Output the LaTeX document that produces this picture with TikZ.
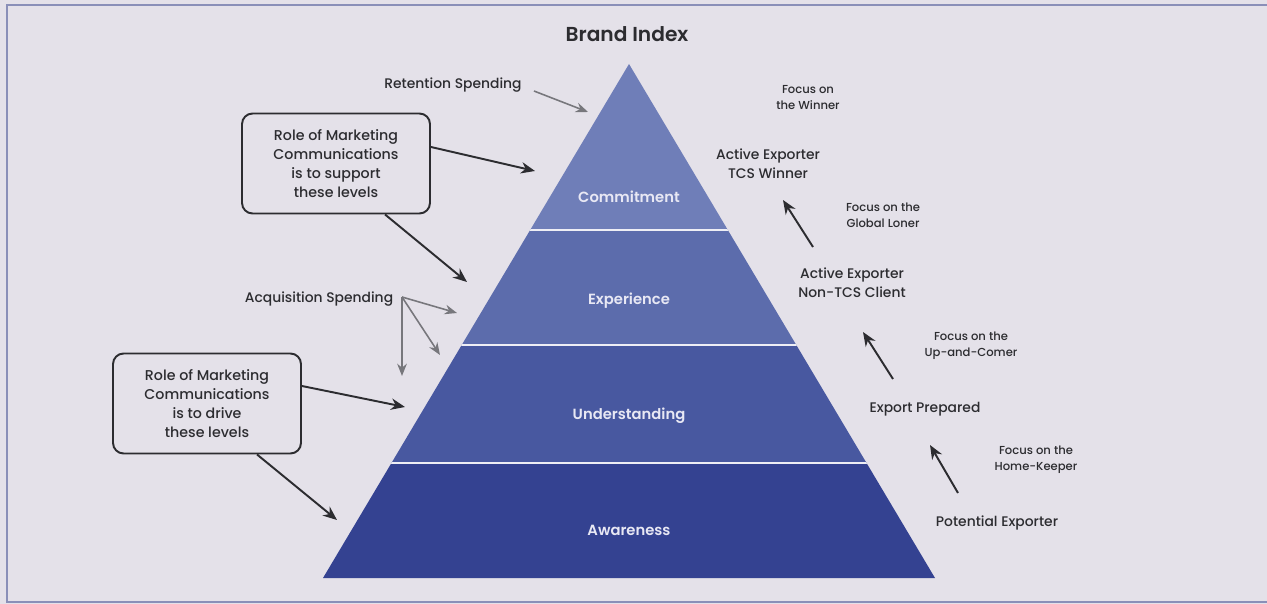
\documentclass[tikz,border=0pt]{standalone}
\usepackage{fontspec}
\setmainfont{Poppins}[UprightFont={* Medium},BoldFont={* SemiBold}]
\usetikzlibrary{arrows.meta}
\definecolor{pagebg}{HTML}{E4E1E9}
\definecolor{framecol}{HTML}{8A8FB8}
\definecolor{inkcol}{HTML}{2C2C30}
\definecolor{spendcol}{HTML}{77777C}
\definecolor{levelA}{HTML}{6F7EB8}
\definecolor{levelB}{HTML}{5C6CAC}
\definecolor{levelC}{HTML}{4858A0}
\definecolor{levelD}{HTML}{344291}
\definecolor{gapcol}{HTML}{EEEEF5}
\definecolor{levtext}{HTML}{E8E8F4}

\begin{document}
\begin{tikzpicture}[x=0.02cm,y=-0.02cm,
    lab/.style={text=inkcol,align=center,inner sep=0pt,font=\fontsize{7.9}{10.8}\selectfont},
    focus/.style={text=inkcol,align=center,inner sep=0pt,font=\fontsize{6.6}{9.1}\selectfont},
    level/.style={text=levtext,inner sep=0pt,font=\bfseries\fontsize{8.4}{9}\selectfont},
    rolebox/.style={draw=inkcol,line width=1.1pt,rounded corners=6pt,align=center,
      minimum width=3.76cm,minimum height=2cm,text=inkcol,font=\fontsize{8.1}{10.8}\selectfont},
    push/.style={draw=inkcol,line width=1.1pt,-{Stealth[length=8pt,width=6.5pt]}},
    spend/.style={draw=spendcol,line width=0.9pt,-{Stealth[length=7pt,width=5.5pt]}}]
  \fill[pagebg] (0,0) rectangle (1267,604);
  \useasboundingbox (0,0) rectangle (1267,604);
  \draw[framecol,line width=1.1pt] (1290,5) -- (7,5) -- (7,602) -- (1290,602);

  % pyramid
  \coordinate (apex) at (629,64);
  \coordinate (bl) at (323,578);
  \coordinate (br) at (935,578);
  \begin{scope}
    \clip (apex) -- (br) -- (bl) -- cycle;
    \fill[levelA] (300,50) rectangle (960,230);
    \fill[levelB] (300,230) rectangle (960,345);
    \fill[levelC] (300,345) rectangle (960,463);
    \fill[levelD] (300,463) rectangle (960,590);
    \foreach \y in {230,345,463}
      \draw[gapcol,line width=1.7pt] (300,\y) -- (960,\y);
  \end{scope}
  \node[level] (commit) at (629,197) {Commitment};
  \node[level] (exper) at (629,301) {Experience};
  \node[level] (under) at (629,416) {Understanding};
  \node[level] (aware) at (629,530) {Awareness};

  \node[text=inkcol,inner sep=0pt,font=\bfseries\fontsize{11.5}{12}\selectfont] (title) at (627,34) {Brand Index};

  % left side
  \node[lab] (ret) at (453,85) {Retention Spending};
  \coordinate (retend) at (588,112);
  \draw[spend] ([shift={(12,6)}]ret.east) -- (retend);

  \node[rolebox] (box1) at (336,163.5) {Role of Marketing\\Communications\\is to support\\these levels};
  \node[rolebox] (box2) at (207,403.5) {Role of Marketing\\Communications\\is to drive\\these levels};
  \coordinate (tipcommit) at (535,171);
  \coordinate (tipexper) at (467,282);
  \coordinate (tipunder) at (405,407);
  \coordinate (tipaware) at (337,520);
  \draw[push] ([shift={(0,-16.5)}]box1.east) -- (tipcommit);
  \draw[push] ([shift={(49,0)}]box1.south) -- (tipexper);
  \draw[push] ([shift={(0,-17.5)}]box2.east) -- (tipunder);
  \draw[push] ([shift={(50,0)}]box2.south) -- (tipaware);

  \node[lab] (acq) at (319,299) {Acquisition Spending};
  \coordinate (acqfork) at (402,297);
  \coordinate (acqa) at (457,313);
  \coordinate (acqb) at (440,355);
  \coordinate (acqc) at (402,376);
  \foreach \t in {acqa,acqb,acqc}
    \draw[spend] (acqfork) -- (\t);

  % right side
  \node[lab] (tcs) at (768,163.5) {Active Exporter\\TCS Winner};
  \node[lab] (nontcs) at (852,282.5) {Active Exporter\\Non-TCS Client};
  \node[lab] (prep) at (925,409) {Export Prepared};
  \node[lab] (potent) at (997,523) {Potential Exporter};
  \node[focus] (fwin) at (808,98) {Focus on\\the Winner};
  \node[focus] (fglobal) at (883,215) {Focus on the\\Global Loner};
  \node[focus] (fup) at (971,346) {Focus on the\\Up-and-Comer};
  \node[focus] (fhome) at (1036,459.5) {Focus on the\\Home-Keeper};
  \coordinate (upa0) at (813,247);
  \coordinate (upa1) at (783,200);
  \coordinate (upb0) at (893,379);
  \coordinate (upb1) at (863,332);
  \coordinate (upc0) at (958,493);
  \coordinate (upc1) at (930,445);
  \draw[push] (upa0) -- (upa1);
  \draw[push] (upb0) -- (upb1);
  \draw[push] (upc0) -- (upc1);
\end{tikzpicture}
\end{document}
